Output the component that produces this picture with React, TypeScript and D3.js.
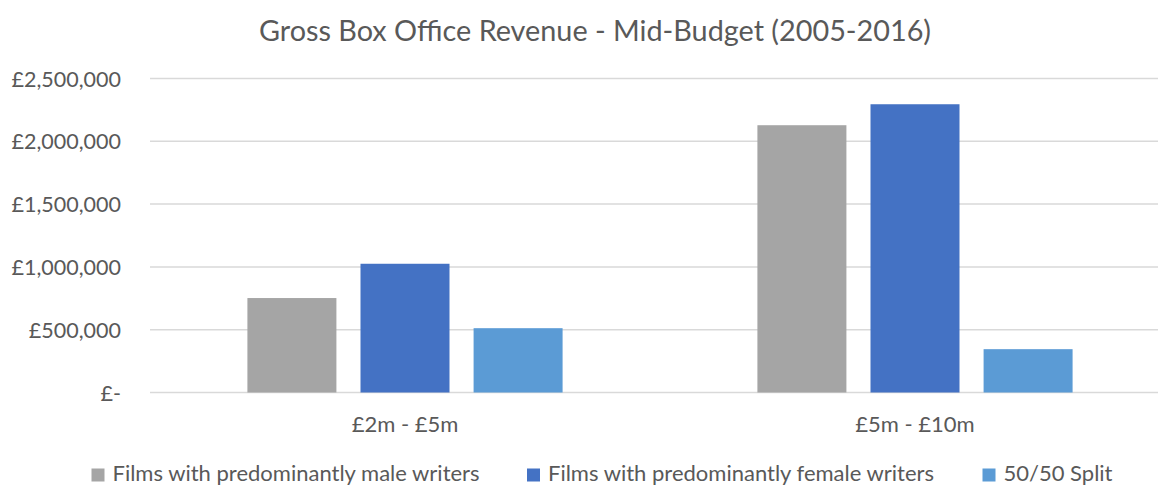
import React from "react";
import * as d3 from "d3";

const categories = ["£2m - £5m", "£5m - £10m"];
const seriesNames = [
  "Films with predominantly male writers",
  "Films with predominantly female writers",
  "50/50 Split",
];
const maleValues = [752000, 2128000];
const femaleValues = [1025000, 2295000];
const splitValues = [512000, 345000];
const yTicks = [0, 500000, 1000000, 1500000, 2000000, 2500000];
const colors = ["#A5A5A5", "#4472C4", "#5B9BD5"];

const W = 1158;
const H = 486;
const FONT = "Lato, 'Noto Sans', sans-serif";
const TEXT = "#595959";

const fmt = (v: number) => (v === 0 ? "£-" : "£" + d3.format(",")(v));

export default function App() {
  const series = [maleValues, femaleValues, splitValues];
  const x0 = d3
    .scaleBand<string>()
    .domain(categories)
    .range([150, 1170])
    .paddingInner(0)
    .paddingOuter(0);
  const y = d3.scaleLinear().domain([0, 2500000]).range([392.5, 78.5]);
  const groupInner = 0.618;
  const gw = x0.bandwidth() * groupInner;
  const x1 = d3
    .scaleBand<number>()
    .domain([0, 1, 2])
    .range([0, gw])
    .paddingInner(0.213);

  return (
    <div
      style={{
        position: "fixed",
        left: 0,
        top: 0,
        width: W,
        height: H,
        overflow: "hidden",
        background: "#fff",
      }}
    >
      <svg width={W} height={H} style={{ display: "block" }} fontFamily={FONT}>
        <rect width={W} height={H} fill="#fff" />
        <text x={595} y={41} textAnchor="middle" fontSize={28.8} fill={TEXT}>
          Gross Box Office Revenue - Mid-Budget (2005-2016)
        </text>
        {yTicks.map((t) => (
          <g key={t}>
            <line x1={150} x2={1170} y1={y(t)} y2={y(t)} stroke="#D9D9D9" strokeWidth={1.5} />
            <text x={121} y={y(t) + 8} textAnchor="end" fontSize={21.5} fill={TEXT}>
              {fmt(t)}
            </text>
          </g>
        ))}
        {categories.map((c, ci) => {
          const gx = (x0(c) as number) + (x0.bandwidth() - gw) / 2;
          return (
            <g key={c}>
              {series.map((s, si) => (
                <rect
                  key={si}
                  x={gx + (x1(si) as number)}
                  y={y(s[ci])}
                  width={x1.bandwidth()}
                  height={y(0) - y(s[ci])}
                  fill={colors[si]}
                />
              ))}
              <text
                x={(x0(c) as number) + x0.bandwidth() / 2}
                y={432}
                textAnchor="middle"
                fontSize={22}
                fill={TEXT}
              >
                {c}
              </text>
            </g>
          );
        })}
        {seriesNames.map((n, i) => {
          const lx = [91.5, 527, 982.5][i];
          return (
            <g key={n}>
              <rect x={lx} y={468.5} width={13} height={13} fill={colors[i]} />
              <text x={lx + 21} y={481} fontSize={22} fill={TEXT}>
                {n}
              </text>
            </g>
          );
        })}
      </svg>
    </div>
  );
}
